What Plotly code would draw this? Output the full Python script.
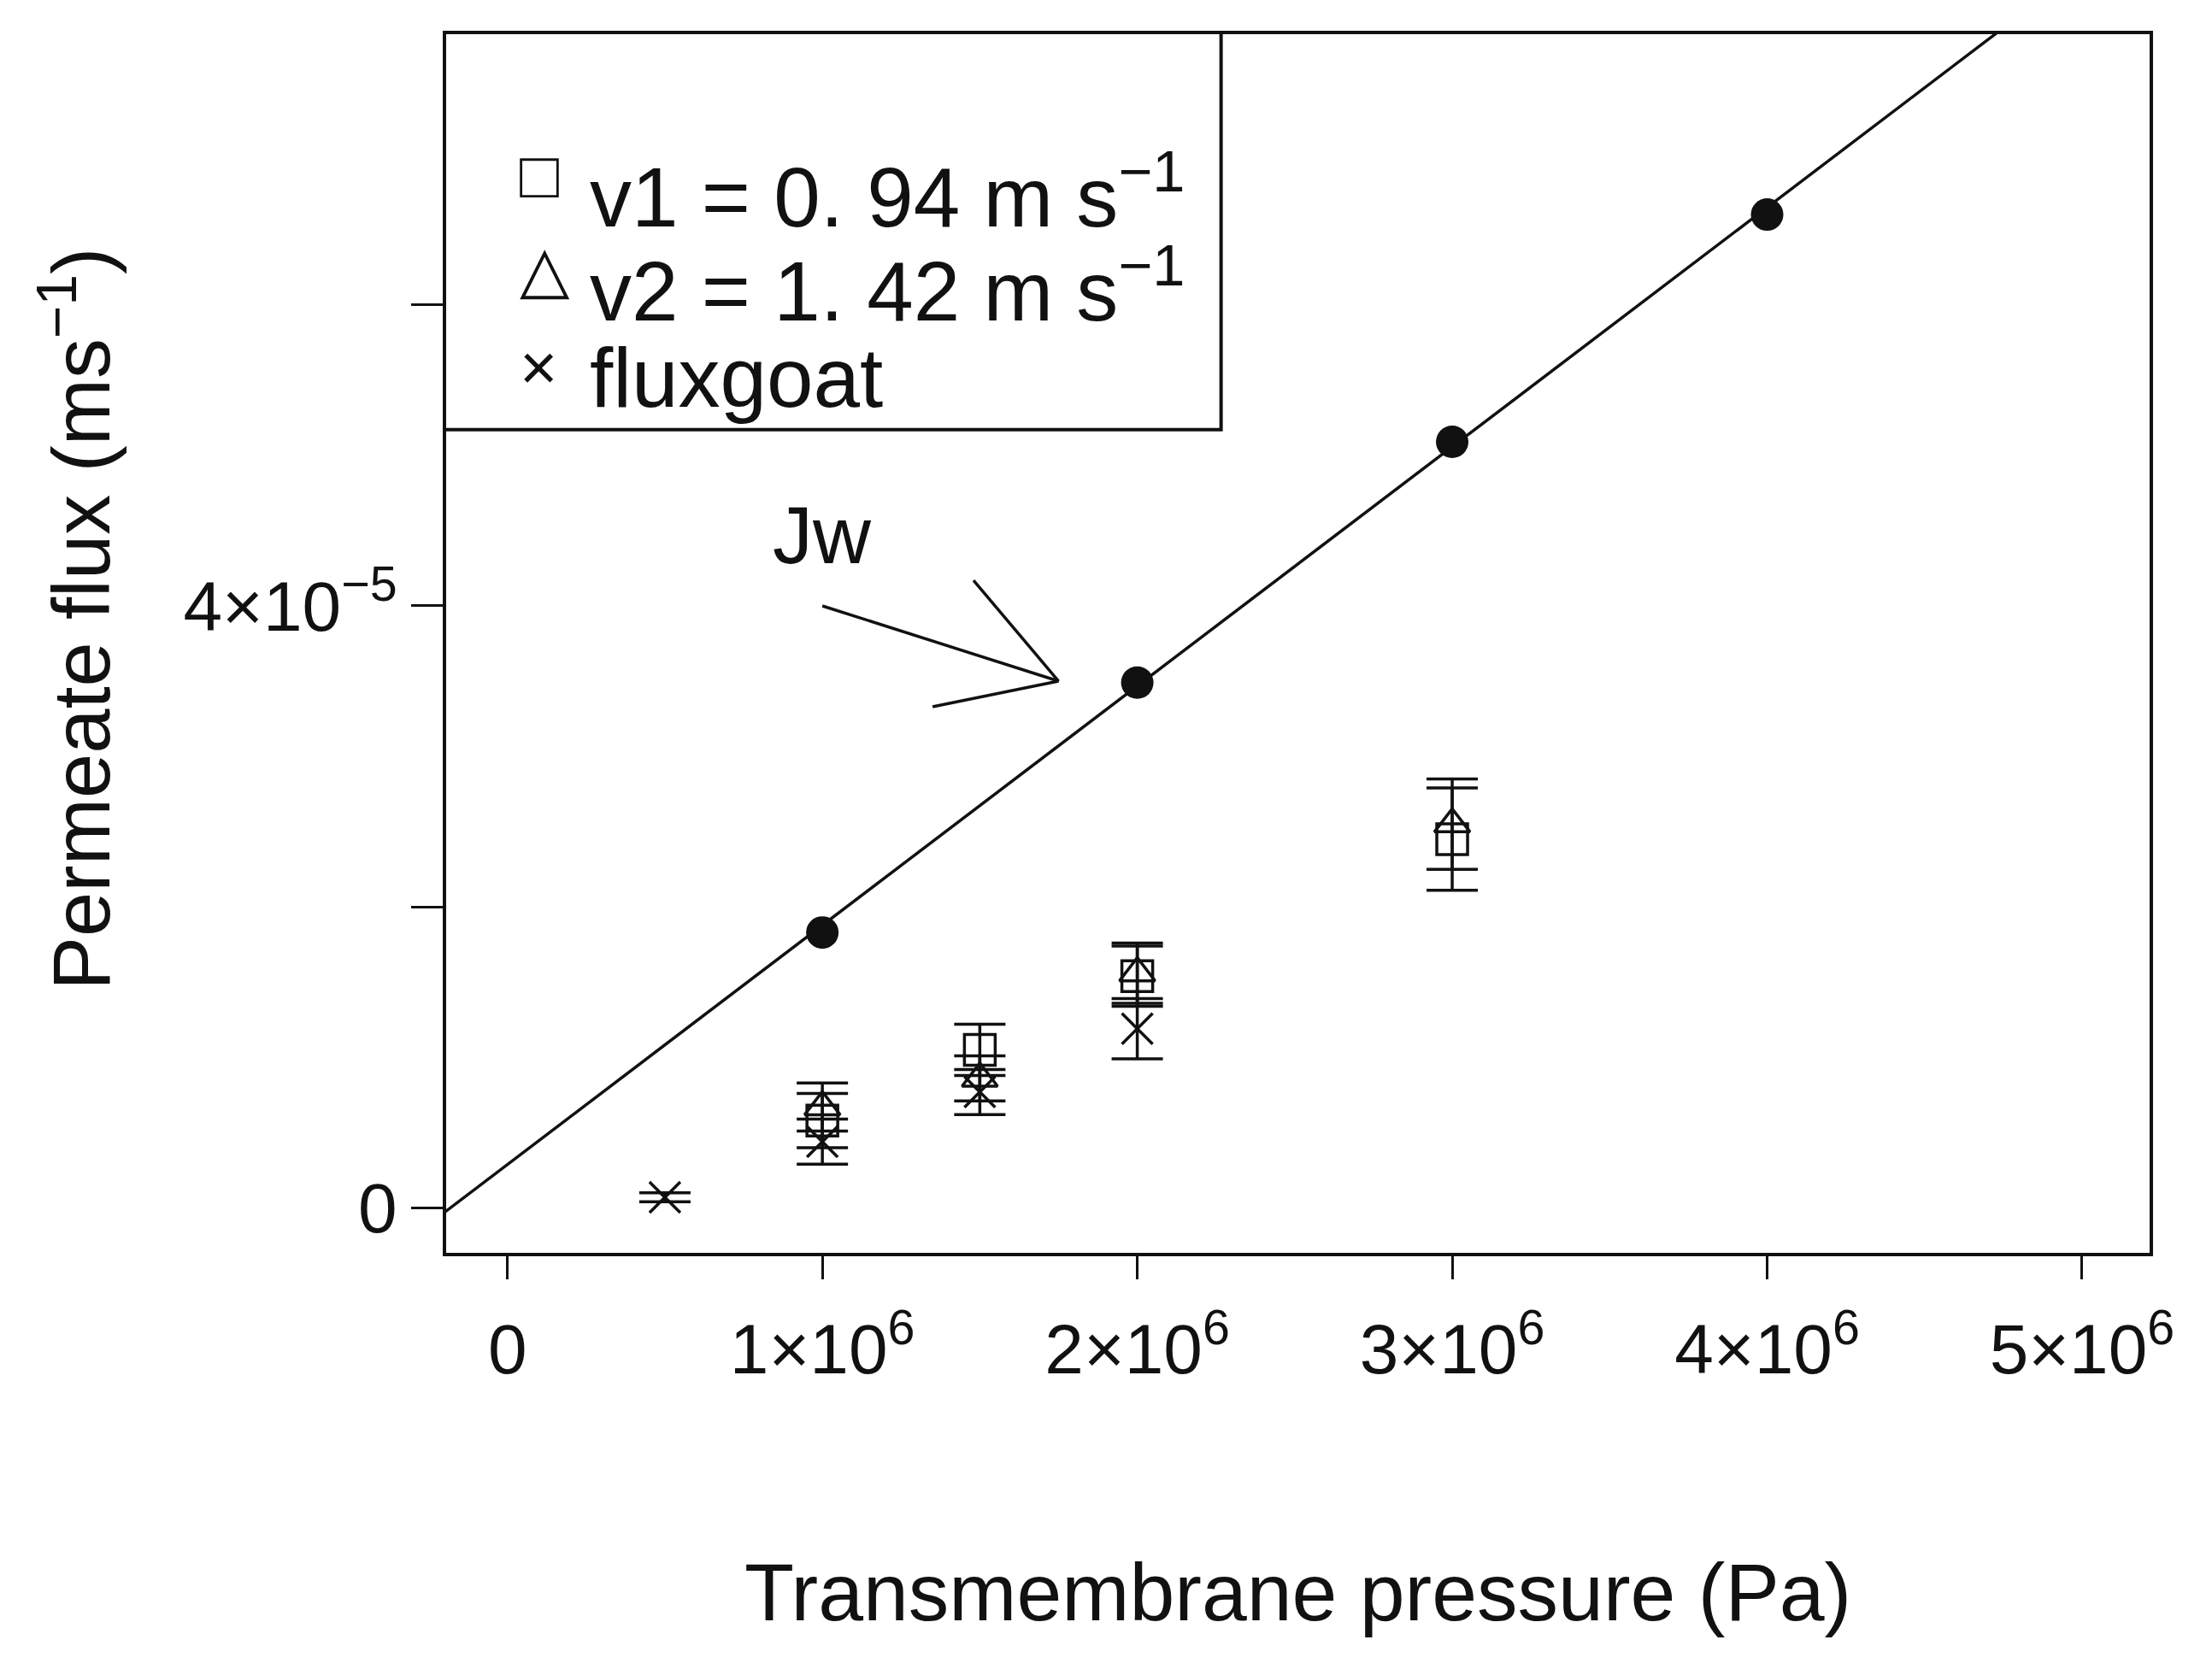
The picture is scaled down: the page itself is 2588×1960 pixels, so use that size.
import plotly.graph_objects as go

# Data
tmp = [1e6, 2e6, 3e6, 4e6]
jw = [1.83e-5, 3.49e-5, 5.09e-5, 6.60e-5]
jw_line_x = [-0.2e6, 4.75e6]
jw_line_y = [-0.03e-5, 7.84e-5]

v1_x = [1e6, 1.5e6, 2e6, 3e6]
v1_y = [0.58e-5, 1.05e-5, 1.54e-5, 2.45e-5]
v1_err = [0.18e-5, 0.17e-5, 0.2e-5, 0.34e-5]

v2_x = [1e6, 1.5e6, 2e6, 3e6]
v2_y = [0.67e-5, 0.86e-5, 1.56e-5, 2.55e-5]
v2_err = [0.16e-5, 0.15e-5, 0.2e-5, 0.3e-5]

goat_x = [0.5e6, 1e6, 1.5e6, 2e6]
goat_y = [0.07e-5, 0.44e-5, 0.77e-5, 1.19e-5]
goat_err = [0.03e-5, 0.15e-5, 0.15e-5, 0.2e-5]

x_ticks = [0, 1e6, 2e6, 3e6, 4e6, 5e6]
x_labels = ["0", "1×10<sup>6</sup>", "2×10<sup>6</sup>", "3×10<sup>6</sup>",
            "4×10<sup>6</sup>", "5×10<sup>6</sup>"]
y_ticks = [0, 2e-5, 4e-5, 6e-5]
y_labels = ["0", "", "4×10<sup>−5</sup>", ""]

FONT = "Liberation Sans, Arial, sans-serif"
BLACK = "#111111"

fig = go.Figure()

fig.add_trace(go.Scatter(x=jw_line_x, y=jw_line_y, mode="lines",
                         line=dict(color=BLACK, width=3.5), showlegend=False))
fig.add_trace(go.Scatter(x=tmp, y=jw, mode="markers",
                         marker=dict(color=BLACK, size=38, symbol="circle"),
                         showlegend=False))

for xs, ys, err, sym in [(v1_x, v1_y, v1_err, "square-open"),
                         (v2_x, v2_y, v2_err, "triangle-up-open"),
                         (goat_x, goat_y, goat_err, "x-thin-open")]:
    fig.add_trace(go.Scatter(
        x=xs, y=ys, mode="markers",
        marker=dict(color=BLACK, size=36, symbol=sym,
                    line=dict(color=BLACK, width=3.5)),
        error_y=dict(type="data", array=err, color=BLACK, thickness=3.5, width=30),
        showlegend=False))

# Jw arrow (open head, as in R)
arrow = [(1.0e6, 4.0e-5, 1.75e6, 3.50e-5),
         (1.48e6, 4.17e-5, 1.75e6, 3.50e-5),
         (1.35e6, 3.33e-5, 1.75e6, 3.50e-5)]
for x0, y0, x1, y1 in arrow:
    fig.add_shape(type="line", x0=x0, y0=y0, x1=x1, y1=y1,
                  line=dict(color=BLACK, width=3.5))
fig.add_annotation(x=1e6, y=4.47e-5, text="Jw", showarrow=False,
                   font=dict(family=FONT, size=94, color=BLACK))

# Plot box
fig.add_shape(type="rect", xref="paper", yref="paper", x0=0, y0=0, x1=1, y1=1,
              line=dict(color=BLACK, width=4))

# Legend box (manual, R style)
lx1, ly0 = 0.455, 0.675
fig.add_shape(type="rect", xref="paper", yref="paper", x0=0, y0=ly0, x1=lx1, y1=1,
              line=dict(color=BLACK, width=4), fillcolor="white")
legend_items = [("□", "v1 = 0. 94 m s<sup>−1</sup>", 0.915),
                ("△", "v2 = 1. 42 m s<sup>−1</sup>", 0.838),
                ("×", "fluxgoat", 0.757)]
for sym, label, yy in legend_items:
    fig.add_annotation(xref="paper", yref="paper", x=0.043, y=yy, text=sym,
                       showarrow=False, font=dict(family=FONT, size=76, color=BLACK))
    fig.add_annotation(xref="paper", yref="paper", x=0.084, y=yy, text=label,
                       xanchor="left", showarrow=False,
                       font=dict(family=FONT, size=98, color=BLACK))

# Axis titles
fig.add_annotation(xref="paper", yref="paper", x=0.5, y=-0.315,
                   text="Transmembrane pressure (Pa)", showarrow=False,
                   font=dict(family=FONT, size=95, color=BLACK))
fig.add_annotation(xref="paper", yref="paper", x=-0.247, y=0.52,
                   text="Permeate flux (ms<sup>−1</sup>)", textangle=-90,
                   showarrow=False, font=dict(family=FONT, size=94, color=BLACK))

fig.update_layout(
    width=2588, height=1960,
    margin=dict(l=512, r=79, t=30, b=500),
    paper_bgcolor="white", plot_bgcolor="white",
    font=dict(family=FONT, color=BLACK),
    xaxis=dict(range=[-0.2e6, 5.22e6], showgrid=False, zeroline=False,
               showline=False, tickvals=x_ticks, ticktext=x_labels,
               ticks="outside", ticklen=28, tickwidth=3, tickcolor=BLACK,
               ticklabelstandoff=12, tickfont=dict(size=82)),
    yaxis=dict(range=[-0.31e-5, 7.81e-5], showgrid=False, zeroline=False,
               showline=False, tickvals=y_ticks, ticktext=y_labels,
               ticks="outside", ticklen=38, tickwidth=3, tickcolor=BLACK,
               ticklabelstandoff=0, tickfont=dict(size=82)),
)

fig.write_html("out.html")
